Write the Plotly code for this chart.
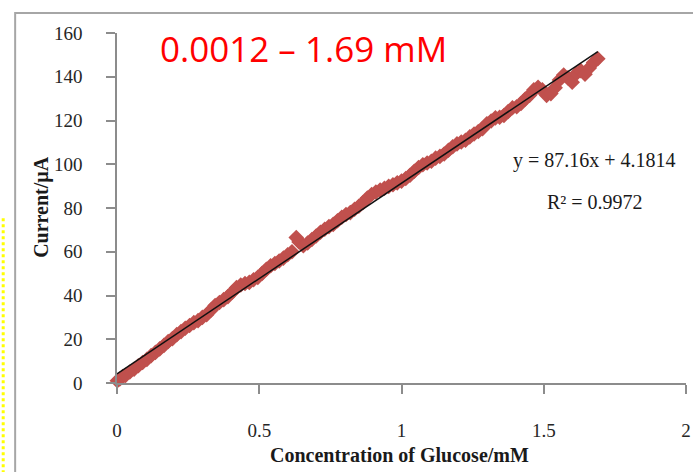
import plotly.graph_objects as go

# Measured glucose concentration (mM) and current (µA)
conc = [0.0012, 0.01, 0.02, 0.03, 0.045, 0.06, 0.075, 0.09, 0.105, 0.12, 0.135, 0.15,
        0.165, 0.18, 0.195, 0.21, 0.225, 0.24, 0.255, 0.27, 0.285, 0.30, 0.315, 0.33,
        0.345, 0.36, 0.375, 0.39, 0.405, 0.42, 0.435, 0.45, 0.465, 0.48, 0.495, 0.51,
        0.525, 0.54, 0.555, 0.57, 0.585, 0.60, 0.615, 0.63, 0.64, 0.655, 0.67, 0.685,
        0.70, 0.715, 0.73, 0.745, 0.76, 0.775, 0.79, 0.805, 0.82, 0.835, 0.85, 0.865,
        0.88, 0.895, 0.91, 0.925, 0.94, 0.955, 0.97, 0.985, 1.00, 1.015, 1.03, 1.045,
        1.06, 1.075, 1.09, 1.105, 1.12, 1.135, 1.15, 1.165, 1.18, 1.195, 1.21, 1.225,
        1.24, 1.255, 1.27, 1.285, 1.30, 1.315, 1.33, 1.345, 1.36, 1.375, 1.39, 1.405,
        1.42, 1.435, 1.45, 1.465, 1.48, 1.495, 1.51, 1.525, 1.54, 1.555, 1.57, 1.585,
        1.60, 1.615, 1.63, 1.645, 1.66, 1.675, 1.69]
current = [1.0, 1.8, 2.9, 3.5, 5.0, 6.3, 7.9, 9.4, 10.8, 12.5, 14.0, 15.6,
           17.2, 19.0, 20.3, 22.1, 23.5, 25.0, 26.3, 27.6, 28.5, 30.0, 31.2, 33.3,
           35.4, 36.8, 38.1, 39.5, 41.5, 43.6, 44.8, 45.5, 46.0, 47.2, 48.3, 50.1,
           52.0, 53.6, 54.6, 55.8, 57.1, 58.6, 60.0, 66.5, 64.5, 62.8, 64.0, 65.6,
           67.2, 68.9, 70.3, 71.5, 72.5, 74.2, 75.8, 77.0, 77.9, 79.4, 80.8, 82.5,
           84.6, 86.2, 87.3, 88.2, 89.0, 89.9, 90.6, 91.5, 92.3, 93.5, 95.0, 96.8,
           98.5, 99.8, 100.6, 101.4, 102.8, 103.6, 104.7, 106.4, 108.0, 109.3, 110.2, 111.0,
           112.5, 113.8, 115.0, 116.3, 118.5, 119.8, 121.2, 121.5, 122.3, 124.1, 125.8, 126.3,
           127.8, 129.8, 131.5, 134.0, 135.2, 134.0, 131.5, 132.3, 135.0, 138.5, 140.8, 139.5,
           137.5, 141.5, 142.8, 141.2, 144.0, 146.5, 148.2]

# Linear fit reported on the chart
slope = 87.16
intercept = 4.1814
r2 = 0.9972
fit_x = [0.0, 1.69]
fit_y = [slope * v + intercept for v in fit_x]

x_ticks = [0, 0.5, 1, 1.5, 2]
x_tick_text = ["0", "0.5", "1", "1.5", "2"]
y_ticks = [0, 20, 40, 60, 80, 100, 120, 140, 160]

serif = "Liberation Serif, Times New Roman, serif"

fig = go.Figure()
fig.add_trace(go.Scatter(
    x=conc, y=current, mode="markers",
    marker=dict(symbol="diamond", size=12, color="#C0504D", line=dict(width=0)),
    showlegend=False, cliponaxis=False,
))
fig.add_trace(go.Scatter(
    x=fit_x, y=fit_y, mode="lines",
    line=dict(color="#111111", width=1.5),
    showlegend=False,
))

axis_common = dict(
    showgrid=False, zeroline=False, showline=True, linecolor="#8C8C8C", linewidth=1.5,
    ticks="outside", tickcolor="#8C8C8C", tickwidth=1.5, automargin=False,
    tickfont=dict(family=serif, size=19, color="#262626"),
)

fig.update_layout(
    width=693, height=472,
    margin=dict(l=117, r=7, t=33, b=89, autoexpand=False),
    paper_bgcolor="white", plot_bgcolor="white",
    xaxis=dict(range=[0, 2], tickvals=x_ticks, ticktext=x_tick_text, ticklen=9,
               ticklabelstandoff=20, **axis_common),
    yaxis=dict(range=[0, 160], tickvals=y_ticks, ticklen=9, ticklabelstandoff=20,
               **axis_common),
    shapes=[
        dict(type="rect", xref="paper", yref="paper", x0=-0.179, x1=1.2, y0=-0.6, y1=1.057,
             line=dict(color="#A6A6A6", width=2), layer="below"),
        dict(type="line", xref="paper", yref="paper", x0=-0.2, x1=-0.2, y0=0.471, y1=-0.26,
             line=dict(color="#FFFF00", width=3, dash="dot")),
    ],
    annotations=[
        dict(text="0.0012 – 1.69 mM", xref="paper", yref="paper", x=0.072, y=0.957,
             xanchor="left", yanchor="middle", showarrow=False,
             font=dict(family="Open Sans, Noto Sans, sans-serif", size=35, color="#FF0000")),
        dict(text=f"y = {slope}x + {intercept}", xref="paper", yref="paper", x=0.840, y=0.637,
             xanchor="center", yanchor="middle", showarrow=False,
             font=dict(family=serif, size=20, color="#1a1a1a")),
        dict(text=f"R² = {r2}", xref="paper", yref="paper", x=0.840, y=0.517,
             xanchor="center", yanchor="middle", showarrow=False,
             font=dict(family=serif, size=20, color="#1a1a1a")),
        dict(text="<b>Concentration of Glucose/mM</b>", xref="paper", yref="paper",
             x=0.497, y=-0.206, xanchor="center", yanchor="middle", showarrow=False,
             font=dict(family=serif, size=20, color="#1a1a1a")),
        dict(text="<b>Current/µA</b>", xref="paper", yref="paper", textangle=-90,
             x=-0.132, y=0.503, xanchor="center", yanchor="middle", showarrow=False,
             font=dict(family=serif, size=20, color="#1a1a1a")),
    ],
)

fig.write_html("out.html", config={"displayModeBar": False},
               post_script="document.body.style.margin='0';")
